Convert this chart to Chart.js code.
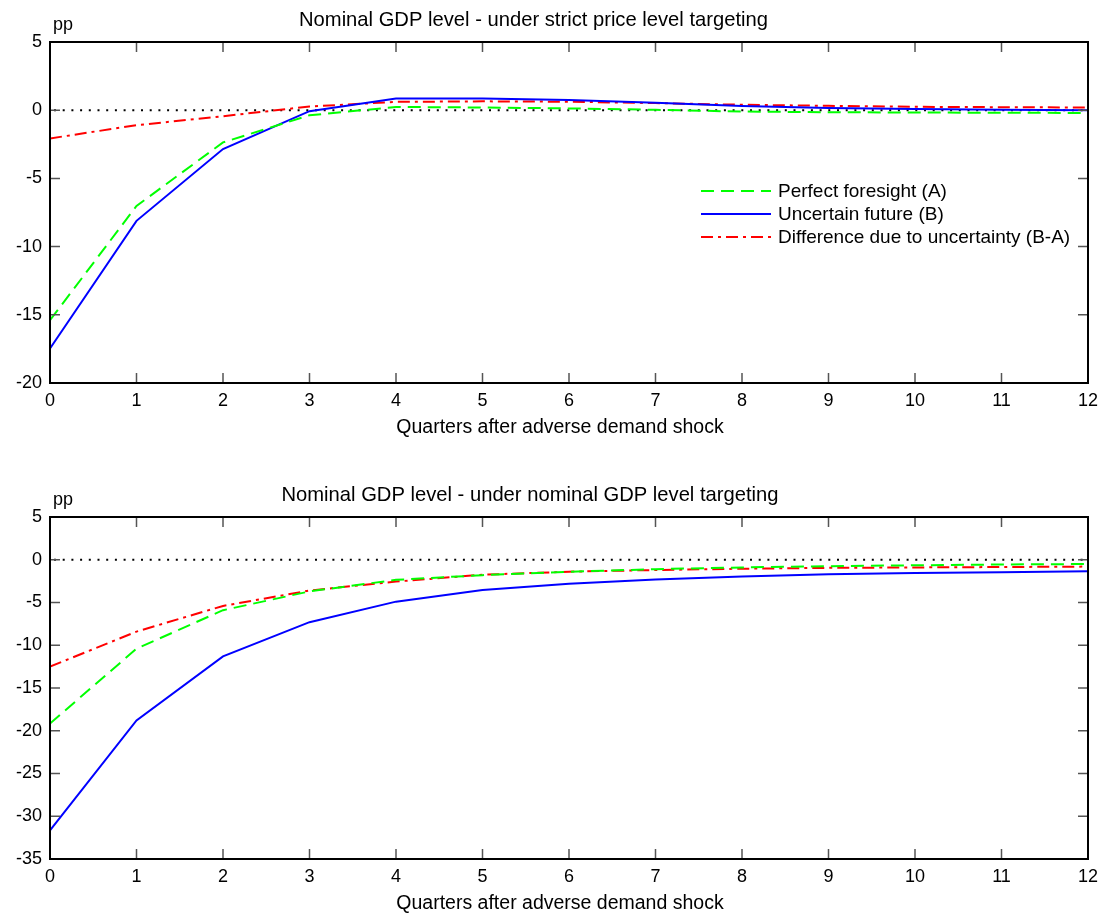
<!DOCTYPE html>
<html>
<head>
<meta charset="utf-8">
<script src="https://cdn.jsdelivr.net/npm/chart.js@4.4.1/dist/chart.umd.min.js"></script>
<style>
  html, body { margin: 0; padding: 0; background: #fff; }
  #wrap { position: relative; width: 1106px; height: 918px; }
  .c { position: absolute; left: 0; }
</style>
</head>
<body>
<div id="wrap">
  <div class="c" style="top:0;width:1106px;height:450px;"><canvas id="c1"></canvas></div>
  <div class="c" style="top:450px;width:1106px;height:468px;"><canvas id="c2"></canvas></div>
</div>
<script>
// ---- data ----
const quarters = [0,1,2,3,4,5,6,7,8,9,10,11,12];
const seriesLabels = ["Perfect foresight (A)", "Uncertain future (B)", "Difference due to uncertainty (B-A)"];

const pltPerfectA = [-15.4, -7.02, -2.36, -0.37, 0.24, 0.2, 0.13, 0.03, -0.1, -0.15, -0.17, -0.19, -0.2];
const pltUncertainB = [-17.47, -8.11, -2.85, -0.07, 0.85, 0.85, 0.75, 0.55, 0.3, 0.17, 0.08, 0.03, 0.0];
const pltDiff = [-2.07, -1.1, -0.44, 0.27, 0.61, 0.65, 0.62, 0.52, 0.4, 0.32, 0.25, 0.22, 0.2];

const ngdpPerfectA = [-19.15, -10.4, -5.9, -3.7, -2.35, -1.8, -1.4, -1.1, -0.9, -0.75, -0.65, -0.55, -0.5];
const ngdpUncertainB = [-31.65, -18.8, -11.3, -7.3, -4.9, -3.55, -2.8, -2.3, -1.95, -1.7, -1.55, -1.45, -1.35];
const ngdpDiff = [-12.5, -8.4, -5.4, -3.6, -2.55, -1.75, -1.4, -1.2, -1.05, -0.95, -0.9, -0.85, -0.8];

const titleTop = "Nominal GDP level - under strict price level targeting";
const titleBottom = "Nominal GDP level - under nominal GDP level targeting";
const xTitle = "Quarters after adverse demand shock";
const yUnit = "pp";
const topYRange = [-20, 5];
const bottomYRange = [-35, 5];

// ---- styles ----
const FONT = "'Liberation Sans', Arial, sans-serif";
const styles = [
  { color: '#00ff00', dash: [13, 7] },
  { color: '#0000ff', dash: [] },
  { color: '#ff0000', dash: [12, 5, 3, 5] }
];

function toPoints(arr) { return arr.map((v, i) => ({ x: quarters[i], y: v })); }

function makeDatasets(a, b, d) {
  return [a, b, d].map((arr, i) => ({
    label: seriesLabels[i],
    data: toPoints(arr),
    borderColor: styles[i].color,
    backgroundColor: styles[i].color,
    borderDash: styles[i].dash,
    borderWidth: 2,
    pointRadius: 0,
    tension: 0,
    fill: false
  }));
}

const framePlugin = {
  id: 'frame',
  beforeDatasetsDraw(chart) {
    const { ctx, chartArea: ca, scales } = chart;
    const y0 = scales.y.getPixelForValue(0);
    ctx.save();
    ctx.strokeStyle = '#000';
    ctx.lineWidth = 2;
    ctx.setLineDash([2, 6.7]);
    ctx.beginPath();
    ctx.moveTo(ca.left + 4, y0);
    ctx.lineTo(ca.right, y0);
    ctx.stroke();
    ctx.restore();
  },
  afterDatasetsDraw(chart, args, opts) {
    const { ctx, chartArea: ca, scales } = chart;
    ctx.save();
    ctx.setLineDash([]);
    ctx.strokeStyle = '#555';
    ctx.lineWidth = 1.5;
    const tl = 10;
    scales.x.ticks.forEach(t => {
      const x = scales.x.getPixelForValue(t.value);
      if (x <= ca.left + 1 || x >= ca.right - 1) return;
      ctx.beginPath();
      ctx.moveTo(x, ca.bottom); ctx.lineTo(x, ca.bottom - tl);
      ctx.moveTo(x, ca.top); ctx.lineTo(x, ca.top + tl);
      ctx.stroke();
    });
    scales.y.ticks.forEach(t => {
      const y = scales.y.getPixelForValue(t.value);
      if (y <= ca.top + 1 || y >= ca.bottom - 1) return;
      ctx.beginPath();
      ctx.moveTo(ca.left, y); ctx.lineTo(ca.left + tl, y);
      ctx.moveTo(ca.right, y); ctx.lineTo(ca.right - tl, y);
      ctx.stroke();
    });
    ctx.strokeStyle = '#000';
    ctx.lineWidth = 2;
    ctx.strokeRect(ca.left, ca.top, ca.right - ca.left, ca.bottom - ca.top);

    ctx.fillStyle = '#000';
    ctx.textBaseline = 'alphabetic';
    // unit label
    ctx.font = '18px ' + FONT;
    ctx.textAlign = 'left';
    ctx.fillText(yUnit, ca.left + 3, ca.top - 12.5);
    // chart title
    ctx.font = '20.2px ' + FONT;
    ctx.textAlign = 'center';
    ctx.fillText(opts.title, opts.titleX, ca.top - 16);
    // x-axis title
    ctx.font = '19.5px ' + FONT;
    ctx.fillText(xTitle, opts.xTitleX, ca.bottom + 50);
    // legend
    if (opts.legend) {
      const L = opts.legend;
      chart.data.datasets.forEach((ds, i) => {
        const y = L.y + i * L.gap;
        ctx.strokeStyle = ds.borderColor;
        ctx.lineWidth = 2;
        ctx.setLineDash(ds.borderDash || []);
        ctx.beginPath();
        ctx.moveTo(L.x1, y); ctx.lineTo(L.x2, y);
        ctx.stroke();
        ctx.setLineDash([]);
        ctx.fillStyle = '#000';
        ctx.font = L.font;
        ctx.textBaseline = 'middle';
        ctx.textAlign = 'left';
        ctx.fillText(ds.label, L.tx, y + 1);
      });
    }
    ctx.restore();
  }
};

function makeChart(id, title, datasets, yRange, cfg) {
  return new Chart(document.getElementById(id), {
    type: 'line',
    data: { datasets },
    plugins: [framePlugin],
    options: {
      responsive: true,
      maintainAspectRatio: false,
      animation: false,
      layout: { padding: { top: cfg.top, right: 18, bottom: 0, left: 0 } },
      plugins: {
        legend: { display: false },
        tooltip: { enabled: false },
        title: { display: false },
        frame: { title: title, titleX: cfg.titleX, xTitleX: 560, legend: cfg.legend || null }
      },
      scales: {
        x: {
          type: 'linear',
          min: 0, max: 12,
          ticks: { stepSize: 1, color: '#000', font: { family: FONT, size: 18 }, padding: 7, maxRotation: 0 },
          grid: { display: false, drawTicks: false },
          border: { display: false },
          afterFit(s) { s.height = cfg.xHeight; }
        },
        y: {
          min: yRange[0], max: yRange[1],
          ticks: { stepSize: 5, color: '#000', font: { family: FONT, size: 18 }, padding: 8 },
          grid: { display: false, drawTicks: false },
          border: { display: false },
          afterFit(s) { s.width = 50; }
        }
      }
    }
  });
}

makeChart('c1', titleTop, makeDatasets(pltPerfectA, pltUncertainB, pltDiff), topYRange, {
  top: 42, xHeight: 67, titleX: 533.5,
  legend: { x1: 701, x2: 771, tx: 778, y: 191, gap: 23, font: '19px ' + FONT }
});
makeChart('c2', titleBottom, makeDatasets(ngdpPerfectA, ngdpUncertainB, ngdpDiff), bottomYRange, {
  top: 67, xHeight: 59, titleX: 530
});
</script>
</body>
</html>
